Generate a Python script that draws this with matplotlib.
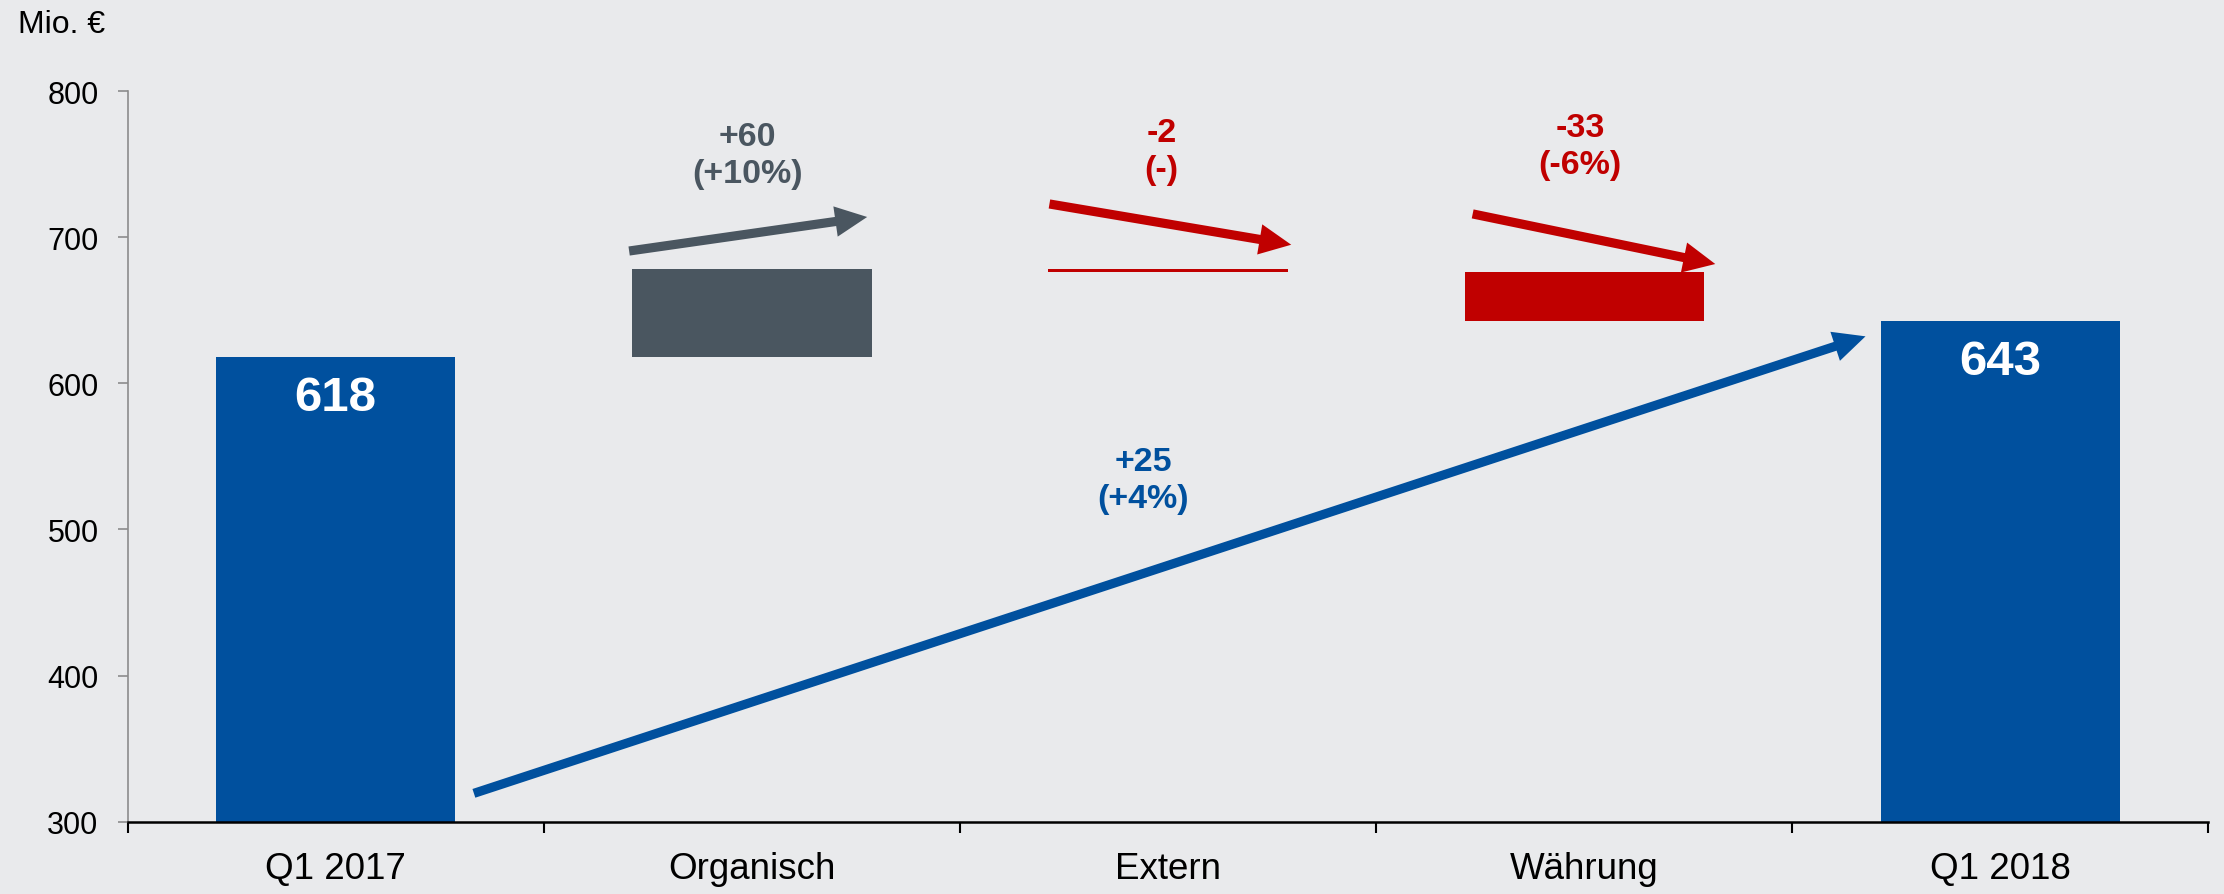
import matplotlib
matplotlib.use("Agg")
import matplotlib.pyplot as plt
from matplotlib.patches import FancyArrowPatch

# -----------------------------
# Data
# -----------------------------

categories = ["Q1 2017", "Organisch", "Extern", "Währung", "Q1 2018"]
start_value = 618
deltas = [60, -2, -33]
end_value = 643

delta_labels = ["+60\n(+10%)", "-2\n(-)", "-33\n(-6%)"]
total_label = "+25\n(+4%)"

y_ticks = [300, 400, 500, 600, 700, 800]
unit_label = "Mio. €"

# -----------------------------
# Style
# -----------------------------

BG = "#E9EAEC"
BLUE = "#00509E"
GREY = "#4A5660"
RED = "#C00000"

plt.rcParams["font.family"] = ["Liberation Sans", "DejaVu Sans"]

fig = plt.figure(figsize=(22.24, 8.95), dpi=100, facecolor=BG)
ax = fig.add_axes([0.0574, 0.0808, 0.9356, 0.8162], facecolor=BG)

bar_w = 0.575

# -----------------------------
# Waterfall bars
# -----------------------------

ax.bar(0, start_value - 300, bottom=300, width=bar_w, color=BLUE, zorder=3)
ax.bar(4, end_value - 300, bottom=300, width=bar_w, color=BLUE, zorder=3)

delta_colors = []
running = start_value
for i, d in enumerate(deltas):
    col = GREY if d > 0 else RED
    delta_colors.append(col)
    bottom = running if d > 0 else running + d
    ax.bar(i + 1, abs(d), bottom=bottom, width=bar_w, color=col, zorder=3)
    running += d

# value labels inside the end bars
ax.text(0, start_value - 28, str(start_value), ha="center", va="center",
        color="white", fontsize=35.5, fontweight="bold", zorder=4)
ax.text(4, end_value - 28, str(end_value), ha="center", va="center",
        color="white", fontsize=35.5, fontweight="bold", zorder=4)

# -----------------------------
# Arrows and change labels
# -----------------------------

def arrow(x0, y0, x1, y1, color):
    a = FancyArrowPatch((x0, y0), (x1, y1),
                        arrowstyle="simple,head_length=23,head_width=22,tail_width=6.6",
                        mutation_scale=1, lw=0, color=color,
                        shrinkA=0, shrinkB=0, zorder=5, clip_on=False)
    ax.add_patch(a)

arrow(0.705, 690.6, 1.277, 713.9, delta_colors[0])
arrow(1.715, 722.8, 2.296, 694.9, delta_colors[1])
arrow(2.732, 716.0, 3.315, 681.7, delta_colors[2])
arrow(0.332, 319.4, 3.676, 632.2, BLUE)

label_pos = [(0.99, 756.3), (1.985, 759.0), (2.99, 762.5)]
for (x, y), txt, col in zip(label_pos, delta_labels, delta_colors):
    ax.text(x, y, txt, ha="center", va="center", color=col,
            fontsize=24.5, fontweight="bold", linespacing=1.25, clip_on=False)

ax.text(1.94, 533.9, total_label, ha="center", va="center", color=BLUE,
        fontsize=24.5, fontweight="bold", linespacing=1.25)

# -----------------------------
# Axes
# -----------------------------

ax.set_xlim(-0.5, 4.5)
ax.set_ylim(300, 800)

ax.set_yticks(y_ticks)
ax.tick_params(axis="y", labelsize=22, length=7, width=1.2,
               color="#8C8C8C", pad=14)

ax.set_xticks([i - 0.5 for i in range(len(categories) + 1)])
ax.set_xticklabels([])
ax.set_xticks(range(len(categories)), minor=True)
ax.set_xticklabels(categories, minor=True)
ax.tick_params(axis="x", which="major", length=8, width=1.5, color="black")
ax.tick_params(axis="x", which="minor", length=0, labelsize=26.5, pad=21)

for s in ["top", "right"]:
    ax.spines[s].set_visible(False)
ax.spines["left"].set_color("#8C8C8C")
ax.spines["left"].set_linewidth(1.2)
ax.spines["bottom"].set_color("black")
ax.spines["bottom"].set_linewidth(1.8)
ax.spines["bottom"].set_zorder(6)

fig.text(0.0081, 0.963, unit_label, ha="left", va="baseline", fontsize=23)

plt.savefig("out.png", dpi=100, facecolor=BG)
plt.close()
